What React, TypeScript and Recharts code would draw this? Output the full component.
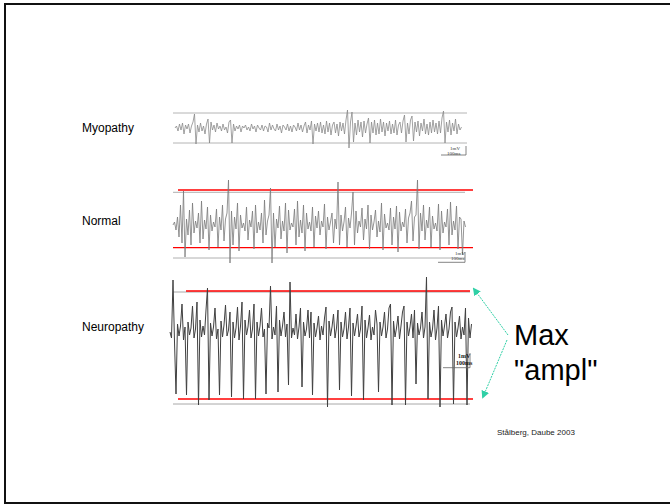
import React from 'react'
import { LineChart, Line, XAxis, YAxis, ReferenceLine } from 'recharts'

// one sample every 6 ms, 1.5 px per sample
const SAMPLE_MS = 6

const traceLabels = ['Myopathy', 'Normal', 'Neuropathy']
const scaleLabels = ['1mV', '100ms']
const citation = 'Stålberg, Daube 2003'
const annotation = ['Max', '"ampl"']

const myopathyValues = [
  0, 2, -3, 4, -2, 5, -6, 3, -1, 4, -5, 2, 6, 14, -16, 3,
  -4, 5, -3, 2, -6, 4, 9, -15, 6, -2, 3, -4, 5, -1, 2, -3,
  4, -2, 1, -5, 6, 8, -15, 4, -3, 2, -1, 3, -4, 2, 0, 3,
  -2, 1, -3, 4, -1, 2, -4, 3, 0, -2, 3, -3, 2, 1, -4, 5,
  -2, 3, -1, -3, 4, -2, 2, -5, 3, 1, -2, 4, -3, 2, -4, 3,
  1, -3, 5, -2, 3, -4, 2, 6, -5, 3, -2, 7, -16, 4, -3, 5,
  -4, 6, -5, 3, -6, 7, -4, 5, -7, 3, 6, -5, 4, -8, 6, -3,
  5, -6, 8, 18, -20, 6, 16, -14, 5, -7, 8, -4, 6, -9, 7, -5,
  4, 10, -15, 6, -5, 8, -7, 5, -6, 9, -4, 6, -8, 5, -3, 7,
  -6, 4, -5, 8, -7, 3, 6, -5, 7, 13, -14, 5, -6, 8, 12, -13,
  6, -4, 7, -8, 5, -3, 9, -6, 4, -7, 6, -5, 8, -4, 5, -6,
  7, -5, 10, 17, -15, 6, -4, 8, -7, 5, -3, 9, -6, 4, -2, 1,
]

const normalValues = [
  0, 3, -5, 8, -12, 20, -18, 34, -32, 6, -10, 15, -20, 22, -8, 4,
  -3, 12, -18, 24, -14, 5, -4, 18, -25, 10, -6, 3, -2, 16, -22, 8,
  -5, 20, -16, 6, 12, 45, -38, 14, -20, 8, -4, 22, -26, 10, -3, 2,
  -6, 18, -15, 5, -2, 14, -24, 20, -8, 3, -5, 12, -18, 25, -10, 4,
  10, 37, -38, 12, -22, 6, -3, 19, -14, 4, -6, 22, -28, 15, -5, 2,
  -2, 16, -20, 24, -12, 5, -8, 20, -26, 12, -4, 3, -6, 18, -22, 9,
  -3, 14, -10, 4, -2, 21, -24, 8, -5, 3, 12, -18, 6, -4, 43, -20,
  10, -6, 3, 18, -22, 7, -3, 12, 33, -20, 14, -8, 4, -2, 17, -15,
  6, -4, 20, -24, 10, -5, 3, 15, -12, 4, -7, 22, -25, 11, -3, 2,
  -5, 17, -20, 8, -4, 19, -27, 13, -6, 3, -2, 16, -18, 7, 12, 24,
  -16, 8, 10, 45, -24, 12, -6, 20, -15, 5, -3, 18, -22, 9, -4, 2,
  -6, 21, -25, 14, -8, 3, -2, 16, -20, 23, -10, 4, -5, 19, -24, 8,
  6, -30, 4, -2,
]

const neuropathyValues = [
  0, -6, 52, -10, -62, 8, -4, 6, 28, -8, 5, -63, 10, -3, 4, 26,
  -6, 3, 30, -73, 12, -5, 6, -3, 22, 44, -68, 9, -4, 5, 24, -7,
  3, -63, 11, -5, 7, 27, -4, 2, 20, -65, 10, -6, 4, 25, -8, 6,
  30, -67, 12, -3, 5, 22, -6, 3, 28, -67, 10, -4, 6, 24, -5, 3,
  -62, 9, 4, 46, -7, 5, -3, 26, -60, 12, -4, 6, 20, -5, 8, -53,
  50, -6, 4, -3, 18, -7, 5, 24, -55, 10, -4, 3, 22, -6, 20, -63,
  9, -5, 4, 16, -8, 6, -3, 14, 25, -75, 11, -4, 5, 18, -6, 4,
  22, -58, 10, -5, 3, 20, -7, 5, 24, -64, 9, -4, 6, 18, -5, 3,
  26, -68, 12, -6, 4, 17, -8, 5, -3, 22, 8, -60, 10, -4, 5, 20,
  -6, 3, 24, 28, -73, 11, -5, 4, 16, -7, 6, 20, 26, -73, 10, -4,
  5, 18, -6, 22, -52, 9, -3, 4, 20, -6, 5, 55, -67, 10, -5, 3,
  22, -8, 4, 26, -75, 12, -4, 6, 18, -6, 3, 20, 25, -72, 10, -5,
  4, 16, -7, 5, -3, 24, -73, 14, -6, 8,
]

type Seg = { x1: number; x2: number; y: number; color: string }

interface TraceProps {
  values: number[]
  left: number
  top: number
  width: number
  height: number
  xDomain: [number, number]
  yDomain: [number, number]
  color: string
  strokeWidth: number
  lines: Seg[]
  bar: { x1: number; x2: number; y: number; y2: number }
}

function Trace({ values, left, top, width, height, xDomain, yDomain, color, strokeWidth, lines, bar }: TraceProps) {
  const data = values.map((v, i) => ({ t: i * SAMPLE_MS, v }))
  return (
    <div style={{ position: 'absolute', left, top }}>
      <LineChart width={width} height={height} data={data} margin={{ top: 0, right: 0, bottom: 0, left: 0 }}>
        <XAxis type="number" dataKey="t" domain={xDomain} hide allowDataOverflow />
        <YAxis type="number" domain={yDomain} hide allowDataOverflow />
        {lines.map((s, i) => (
          <ReferenceLine
            key={i}
            segment={[{ x: s.x1, y: s.y }, { x: s.x2, y: s.y }]}
            stroke={s.color}
            strokeWidth={s.color === '#ff0000' ? 1.3 : 1}
            ifOverflow="visible"
          />
        ))}
        <Line
          type="linear"
          dataKey="v"
          stroke={color}
          strokeWidth={strokeWidth}
          dot={false}
          isAnimationActive={false}
        />
        <ReferenceLine segment={[{ x: bar.x1, y: bar.y }, { x: bar.x2, y: bar.y }]} stroke="#666" strokeWidth={0.8} ifOverflow="visible" />
        <ReferenceLine segment={[{ x: bar.x2, y: bar.y }, { x: bar.x2, y: bar.y2 }]} stroke="#666" strokeWidth={0.8} ifOverflow="visible" />
      </LineChart>
    </div>
  )
}

const labelStyle: React.CSSProperties = {
  position: 'absolute',
  left: 82,
  fontFamily: 'Arial, "Liberation Sans", sans-serif',
  fontSize: 12,
  color: '#000',
  lineHeight: '14px',
}

const tiny: React.CSSProperties = {
  position: 'absolute',
  fontFamily: '"Liberation Serif", "DejaVu Serif", serif',
  fontSize: 5,
  lineHeight: '5px',
  color: '#333',
  whiteSpace: 'nowrap',
}

export default function App() {
  return (
    <div style={{ position: 'absolute', left: 0, top: 0, width: 670, height: 504, overflow: 'hidden', background: '#fff' }}>
      <div style={{ position: 'absolute', left: 4, top: 3, width: 690, height: 497, border: '2px solid #111' }} />

      <div style={{ ...labelStyle, top: 121 }}>{traceLabels[0]}</div>
      <div style={{ ...labelStyle, top: 214 }}>{traceLabels[1]}</div>
      <div style={{ ...labelStyle, top: 320 }}>{traceLabels[2]}</div>

      <Trace
        values={myopathyValues}
        left={173}
        top={98}
        width={294}
        height={64}
        xDomain={[-8, 1168]}
        yDomain={[-34, 30]}
        color="#8a8a8a"
        strokeWidth={0.8}
        lines={[
          { x1: -8, x2: 1168, y: 15, color: '#b4b4b4' },
          { x1: -8, x2: 1168, y: -15, color: '#b4b4b4' },
        ]}
        bar={{ x1: 1064, x2: 1164, y: -27, y2: -18 }}
      />
      <div style={{ ...tiny, left: 450, top: 146 }}>{scaleLabels[0]}</div>
      <div style={{ ...tiny, left: 447, top: 151 }}>{scaleLabels[1]}</div>

      <Trace
        values={normalValues}
        left={170}
        top={175}
        width={306}
        height={90}
        xDomain={[-12, 1212]}
        yDomain={[-40, 50]}
        color="#7a7a7a"
        strokeWidth={0.8}
        lines={[
          { x1: 0, x2: 1168, y: 32.7, color: '#b0b0b0' },
          { x1: 0, x2: 1168, y: -33, color: '#b0b0b0' },
          { x1: 20, x2: 1200, y: 35, color: '#ff0000' },
          { x1: 0, x2: 1200, y: -22.7, color: '#ff0000' },
        ]}
        bar={{ x1: 1060, x2: 1168, y: -37.3, y2: -27 }}
      />
      <div style={{ ...tiny, left: 455, top: 251 }}>{scaleLabels[0]}</div>
      <div style={{ ...tiny, left: 451, top: 256 }}>{scaleLabels[1]}</div>

      <Trace
        values={neuropathyValues}
        left={166}
        top={272}
        width={312}
        height={140}
        xDomain={[-16, 1232]}
        yDomain={[-80, 60]}
        color="#404040"
        strokeWidth={1}
        lines={[
          { x1: 12, x2: 1200, y: 40, color: '#a8a8a8' },
          { x1: 12, x2: 1200, y: -72, color: '#a8a8a8' },
          { x1: 64, x2: 1200, y: 41, color: '#ff0000' },
          { x1: 32, x2: 1212, y: -67, color: '#ff0000' },
        ]}
        bar={{ x1: 1092, x2: 1200, y: -35.7, y2: -21 }}
      />
      <div style={{ ...tiny, left: 458, top: 354, fontSize: 6, fontWeight: 700, color: '#111' }}>{scaleLabels[0]}</div>
      <div style={{ ...tiny, left: 456, top: 361, fontSize: 6, fontWeight: 700, color: '#111' }}>{scaleLabels[1]}</div>

      <svg width={670} height={504} style={{ position: 'absolute', left: 0, top: 0, pointerEvents: 'none' }}>
        <defs>
          <marker id="head" markerWidth="8" markerHeight="8" refX="6" refY="4" orient="auto" markerUnits="userSpaceOnUse">
            <path d="M0,0 L8,4 L0,8 Z" fill="#2fd0a6" />
          </marker>
        </defs>
        <line x1={508} y1={335} x2={474} y2={289} stroke="#2fd0a6" strokeWidth={1} strokeDasharray="2 1" markerEnd="url(#head)" />
        <line x1={507} y1={340} x2={483} y2={397} stroke="#2fd0a6" strokeWidth={1} strokeDasharray="2 1" markerEnd="url(#head)" />
      </svg>

      <div style={{ position: 'absolute', left: 514, top: 318, fontFamily: 'Arial, "Liberation Sans", sans-serif', fontSize: 29, lineHeight: '35px', color: '#000' }}>
        <div>{annotation[0]}</div>
        <div>{annotation[1]}</div>
      </div>

      <div style={{ position: 'absolute', left: 497, top: 428, fontFamily: 'Arial, "Liberation Sans", sans-serif', fontSize: 8, color: '#222', whiteSpace: 'nowrap' }}>
        {citation}
      </div>
    </div>
  )
}
